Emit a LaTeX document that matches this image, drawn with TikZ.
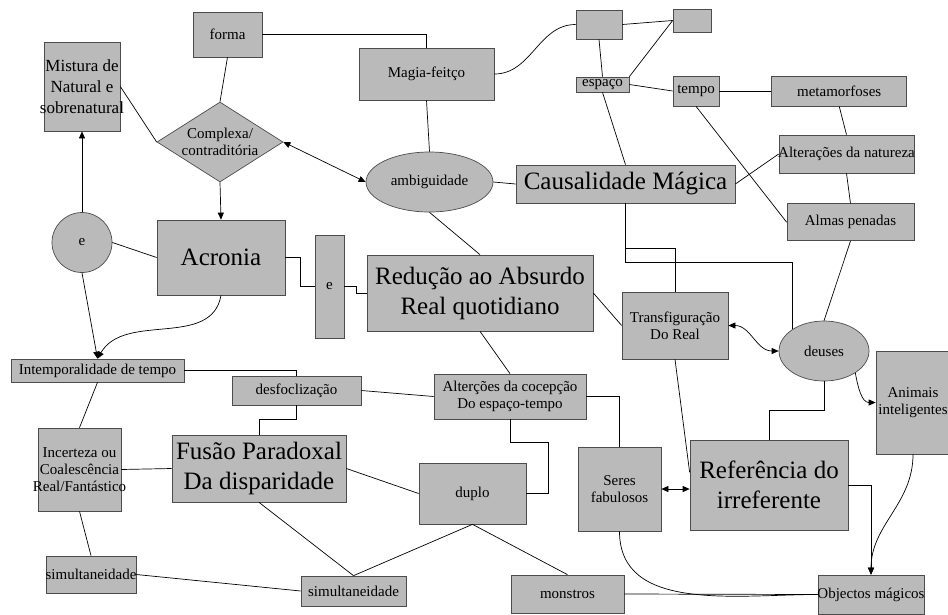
\documentclass[tikz,border=0pt]{standalone}
\usepackage{fontspec}
\setmainfont{Liberation Serif}
\usetikzlibrary{arrows.meta,positioning,shapes.geometric}
\definecolor{boxgray}{RGB}{186,186,186}
\newcommand{\ovr}[1]{\makebox[0pt]{#1}}

\begin{document}
\begin{tikzpicture}[
  x=1pt, y=-1pt, line width=0.7pt,
  every node/.style={font=\fontsize{15}{17}\selectfont},
  box/.style={draw=black!70, fill=boxgray, rectangle, inner sep=0pt, align=center},
  oval/.style={draw=black!70, fill=boxgray, ellipse, inner sep=0pt, align=center},
  big/.style={font=\fontsize{25}{30}\selectfont},
  sz/.style 2 args={minimum width=#1pt, minimum height=#2pt},
  arr/.style={-{Triangle[length=7pt,width=6pt]}},
  dblarr/.style={{Triangle[length=7pt,width=6pt]}-{Triangle[length=7pt,width=6pt]}}
]
\useasboundingbox[fill=white] (0,0) rectangle (948,614);
% top
\node[box, sz={69}{45}] (forma) at (227.5,34.5) {forma};
\node[box, sz={76}{89}, font=\fontsize{17}{21}\selectfont] (mistura) at (82,86.5) {\ovr{Mistura de}\\\ovr{Natural e}\\\ovr{sobrenatural}};
\node[box, diamond, aspect=1.575, sz={126}{80}] (complexa) at (220,142) {\ovr{Complexa/}\\\ovr{contraditória}};
\node[box, sz={135}{52}] (magia) at (426.5,74) {Magia-feitço};
\node[oval, sz={127}{60}] (ambig) at (429.5,182) {ambiguidade};
\node[box, sz={46}{29}] (blank1) at (599,24.5) {};
\node[box, sz={38}{23}] (blank2) at (692,20.5) {};
\node[box, sz={53}{15}] (espaco) at (602.5,84.5) {espaço};
\node[box, sz={46}{30}] (tempo) at (696,91) {tempo};
\node[box, sz={135}{30}, right=52pt of tempo] (metam) {metamorfoses};
\node[box, sz={135}{38}] (altnat) at (846.5,154) {\ovr{Alterações da natureza}};
\node[box, sz={127}{37}, below=30pt of altnat, xshift=4pt] (almas) {Almas penadas};
\node[box, big, sz={219}{38}] (causal) at (625.5,184) {Causalidade Mágica};
% middle
\node[draw=black!70, fill=boxgray, circle, minimum size=60pt, inner sep=0pt] (ecirc) at (82,242.5) {e};
\node[box, big, sz={128}{75}] (acronia) at (221,257.5) {Acronia};
\node[box, sz={29}{103}] (econj) at (329.5,286.5) {e};
\node[box, big, sz={226}{76}] (reducao) at (480,293) {Redução ao Absurdo\\Real quotidiano};
\node[box, sz={106}{67}] (transf) at (675,325.5) {Transfiguração\\Do Real};
\node[oval, sz={90}{60}] (deuses) at (824,351) {deuses};
\node[box, sz={74}{103}] (animais) at (913,402.5) {Animais\\inteligentes};
% bottom
\node[box, sz={173}{23}] (intemp) at (97.5,370.5) {Intemporalidade de tempo};
\node[box, sz={129}{29}] (desfoc) at (296.5,390.5) {desfoclização};
\node[box, sz={152}{45}] (altesp) at (510,396.5) {Alterções da cocepção\\Do espaço-tempo};
\node[box, sz={83}{83}] (incert) at (79.5,469.5) {\ovr{Incerteza ou}\\\ovr{Coalescência}\\\ovr{Real/Fantástico}};
\node[box, big, sz={174}{67}] (fusao) at (259,468.5) {Fusão Paradoxal\\Da disparidade};
\node[box, sz={107}{61}] (duplo) at (472.5,493.5) {duplo};
\node[box, sz={83}{84}] (seres) at (619.5,489) {Seres\\fabulosos};
\node[box, big, sz={158}{90}] (refer) at (769,485) {Referência do\\irreferente};
\node[box, sz={90}{37}] (simul1) at (91,574.5) {\ovr{simultaneidade}};
\node[box, sz={105}{30}] (simul2) at (353.5,591) {simultaneidade};
\node[box, sz={113}{38}] (monstros) at (567.5,594) {monstros};
\node[box, sz={106}{39}] (objectos) at (871,594.5) {\ovr{Objectos mágicos}};
% straight links
\foreach \a/\b in {forma.south/complexa.north, mistura.east/complexa.west, magia.south/ambig.north,
  blank1.east/blank2.west, blank1.south/espaco.north, blank2.west/espaco.north east,
  espaco.east/tempo.west, tempo.east/metam.west, tempo.south/almas.west, metam.south/altnat.north,
  altnat.south/almas.north, causal.east/altnat.west, espaco.south/causal.north, ambig.east/causal.west,
  ambig.south/reducao.north, reducao.east/transf.west, transf.south/refer.171, almas.south/deuses.north,
  monstros.east/objectos.west, monstros.north/duplo.south, simul2.north/duplo.south,
  reducao.south/altesp.north, desfoc.east/altesp.west, intemp.south/incert.north, incert.east/fusao.west,
  incert.south/simul1.north, simul1.east/simul2.west, fusao.south/simul2.north, fusao.east/duplo.west,
  ecirc.east/acronia.west}
  \draw (\a) -- (\b);
% elbow links
\draw (forma.east) -| (magia.north);
\draw (causal.south) -- ++(0,45) -| (transf.north);
\draw (causal.south) -- ++(0,59) -| (deuses.145);
\draw (deuses.south) -- ++(0,29) -| (refer.north);
\draw (altesp.south) -- ++(0,23) -| ([xshift=22pt]duplo.east) -- (duplo.east);
\draw (altesp.east) -| (seres.north);
\draw (intemp.east) -| (desfoc.north);
\draw (desfoc.south) -- ++(0,14) -| (fusao.north);
\draw (acronia.east) -- ++(15,0) |- (econj.west);
\draw (econj.east) -- ++(12,0) |- (reducao.west);
% curves
\draw (magia.east) to[out=0, in=180] (blank1.west);
\draw (seres.south) to[out=-90, in=180] (objectos.west);
% arrows
\draw[dblarr] (complexa.east) -- (ambig.west);
\draw[arr] (complexa.south) -- (acronia.north);
\draw[arr] (ecirc.north) -- (mistura.south);
\draw[arr] (ecirc.south) -- (intemp.north);
\draw[arr] (acronia.south) to[out=-100, in=60] (intemp.north);
\draw[dblarr] (transf.east) to[out=0, in=180] (deuses.west);
\draw[arr] (deuses.-35) to[out=-80, in=180] (animais.west);
\draw[arr] (animais.south) to[out=-90, in=90] (objectos.north);
\draw[arr] (refer.east) -| (objectos.north);
\draw[dblarr] (seres.east) -- (seres.east -| refer.west);
\end{tikzpicture}
\end{document}
